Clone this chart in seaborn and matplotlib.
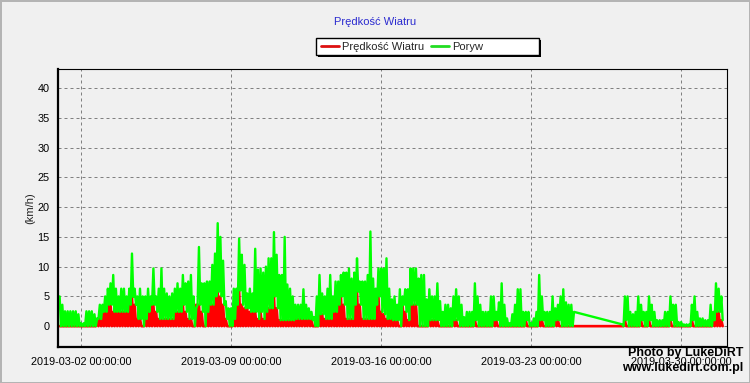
import pandas as pd
import seaborn as sns
import matplotlib.pyplot as plt
import matplotlib.dates as mdates
from matplotlib.ticker import MultipleLocator, FixedLocator
from matplotlib.lines import Line2D
from matplotlib.patches import Rectangle

# odczyty co 3 godziny (km/h)
start_a = '2019-03-01 00:00'
gust_a = [
    5.0, 3.6, 2.5, 2.5, 2.5, 2.5, 2.5, 2.0,        # 03-01
    0.5, 0.5, 2.5, 2.5, 2.5, 2.0, 1.3, 3.6,        # 03-02
    3.6, 5.0, 6.3, 7.2, 8.6, 6.3, 5.0, 6.3,        # 03-03
    6.3, 5.0, 6.3, 12.2, 6.3, 5.0, 6.3, 5.0,       # 03-04
    5.0, 6.3, 5.0, 9.7, 5.0, 6.3, 9.7, 6.3,        # 03-05
    5.5, 5.0, 5.5, 6.3, 7.2, 6.3, 8.6, 7.2,        # 03-06
    7.5, 8.6, 5.0, 3.0, 13.3, 7.2, 7.2, 7.5,       # 03-07
    7.5, 10.3, 12.2, 17.3, 15.0, 11.0, 4.2, 3.0,   # 03-08
    3.0, 6.3, 6.3, 14.7, 12.0, 10.3, 5.5, 6.3,     # 03-09
    5.5, 13.0, 9.5, 9.7, 9.0, 10.0, 11.4, 11.4,    # 03-10
    15.8, 12.0, 8.6, 8.6, 15.0, 7.0, 6.3, 5.0,     # 03-11
    3.6, 3.6, 3.6, 6.2, 3.6, 3.0, 2.4, 1.5,        # 03-12
    5.0, 8.6, 5.5, 5.0, 6.3, 8.6, 5.0, 7.5,        # 03-13
    7.5, 8.6, 9.0, 9.0, 9.7, 8.0, 9.0, 11.4,       # 03-14
    7.5, 7.5, 7.5, 8.6, 15.9, 8.0, 6.3, 9.7,       # 03-15
    9.7, 9.7, 11.4, 6.3, 4.5, 5.0, 3.6, 6.2,       # 03-16
    5.0, 6.2, 6.2, 9.7, 9.7, 9.7, 8.0, 8.6,        # 03-17
    8.6, 4.5, 6.2, 5.0, 5.0, 7.2, 4.2, 2.4,        # 03-18
    3.6, 3.6, 3.0, 5.0, 6.2, 5.0, 3.6, 1.5,        # 03-19
    2.4, 2.4, 2.4, 7.2, 5.0, 3.6, 2.4, 2.4,        # 03-20
    2.4, 5.0, 5.0, 2.4, 4.0, 7.2, 3.6, 1.3,        # 03-21
    0.5, 2.0, 3.6, 6.2, 6.2, 2.4, 2.4, 2.4,        # 03-22
    0.5, 1.3, 2.4, 8.6, 5.0, 2.4, 2.4, 2.4,        # 03-23
    5.0, 3.0, 3.6, 5.0, 6.2, 4.0, 3.6, 3.6,        # 03-24
    2.4,                                           # 03-25 00:00, potem przerwa
]
wind_a = [
    0, 0, 0, 0, 0, 0, 0, 0,
    0, 0, 0, 0, 0, 0, 1.2, 1.2,
    2.4, 2.4, 3.6, 3.6, 2.4, 2.4, 2.4, 2.4,
    2.4, 2.4, 3.6, 4.9, 3.6, 1.2, 1.2, 0,
    1.2, 2.4, 3.6, 3.6, 2.4, 1.2, 1.2, 1.2,
    1.2, 1.2, 1.2, 2.4, 2.4, 2.4, 3.6, 2.4,
    1.2, 1.2, 0, 3.6, 3.6, 2.4, 0, 2.4,
    3.6, 3.6, 5.0, 5.8, 5.0, 3.6, 1.2, 0,
    0, 1.2, 3.6, 6.0, 3.6, 3.0, 3.0, 2.4,
    2.4, 2.4, 1.2, 2.4, 1.2, 2.4, 3.0, 3.0,
    5.0, 3.0, 1.0, 1.0, 1.0, 1.0, 1.0, 1.0,
    1.2, 1.2, 1.2, 1.2, 1.2, 1.2, 1.0, 0,
    0, 2.0, 2.0, 1.2, 1.2, 1.2, 2.4, 2.4,
    3.6, 5.0, 3.6, 1.2, 1.2, 1.2, 3.6, 5.8,
    3.6, 1.2, 1.2, 1.2, 1.2, 1.2, 3.6, 5.0,
    2.4, 2.0, 1.2, 1.2, 1.0, 1.0, 1.0, 0,
    3.6, 2.4, 1.0, 3.6, 3.6, 3.6, 0, 0,
    0, 0, 1.0, 1.0, 1.0, 1.0, 0, 0,
    0, 0, 0, 1.0, 1.0, 0, 0, 0,
    0, 0, 0, 1.0, 0, 0, 0, 0,
    0, 0, 1.0, 1.0, 0, 0, 0, 0,
    0, 0, 0, 0, 0, 0, 1.0, 0,
    0, 0, 0, 1.0, 1.0, 0, 0, 0,
    0, 1.0, 1.0, 0, 0, 0, 0, 0,
    0,
]

start_b = '2019-03-27 06:00'
gust_b = [
    0.3, 5.0, 5.0, 2.4, 2.0, 2.4,                  # 03-27
    5.0, 3.6, 2.4, 2.4, 5.0, 3.6, 2.4, 1.0,        # 03-28
    1.0, 1.0, 2.4, 2.4, 5.0, 3.6, 3.6, 0.7,        # 03-29
    0.7, 0.3, 0.3, 0.3, 3.6, 5.0, 2.4, 1.3,        # 03-30
    1.3, 1.0, 1.0, 3.6, 2.4, 7.2, 6.3, 5.0,        # 03-31
]
wind_b = [
    0, 1.0, 0, 0, 0, 0,
    0, 1.0, 0, 0, 1.0, 0, 0, 0,
    0, 0, 0, 0, 1.0, 0, 0, 0,
    0, 0, 0, 0, 1.0, 0, 0, 0,
    0, 0, 0, 0, 1.0, 2.4, 2.4, 1.0,
]

y_ticks = [0, 5, 10, 15, 20, 25, 30, 35, 40]
x_ticks = ['2019-03-02', '2019-03-09', '2019-03-16', '2019-03-23', '2019-03-30']

half = pd.Timedelta(minutes=90)


def readings(start, gust, wind):
    times = pd.date_range(start, periods=len(gust), freq='3h')
    rows = []
    for t, g, w in zip(times, gust, wind):
        rows.append((t, g, w))            # szczyt
        rows.append((t + half, w, 0.0))   # cisza miedzy porywami
    return rows


rows = readings(start_a, gust_a, wind_a)[:-1] + readings(start_b, gust_b, wind_b)
df = pd.DataFrame(rows, columns=['czas', 'Poryw', 'Prędkość Wiatru'])

sns.set_style('white')
plt.rcParams['font.family'] = ['Liberation Sans', 'DejaVu Sans']
bg = '#f0f0f0'

fig = plt.figure(figsize=(7.5, 3.83), dpi=100, facecolor=bg)
fig.patch.set_edgecolor('#b4b4b4')
fig.patch.set_linewidth(2)
ax = fig.add_axes([58 / 750, 1 - 347 / 383, 669 / 750, 278 / 383])
ax.set_facecolor(bg)

sns.lineplot(data=df, x='czas', y='Prędkość Wiatru', color='#ff0000', lw=1.9,
             estimator=None, sort=False, ax=ax)
sns.lineplot(data=df, x='czas', y='Poryw', color='#00ff00', lw=1.7,
             estimator=None, sort=False, ax=ax)

ax.set_ylim(-3.5, 43.2)
ax.set_xlim(pd.Timestamp('2019-02-28 22:10'), pd.Timestamp('2019-04-01 03:20'))
ax.set_yticks(y_ticks)
ax.yaxis.set_minor_locator(MultipleLocator(1))
ax.xaxis.set_major_locator(FixedLocator(mdates.date2num(pd.to_datetime(x_ticks))))
ax.xaxis.set_minor_locator(FixedLocator(mdates.date2num(
    pd.date_range('2019-03-02', '2019-04-01', freq='42h'))))
ax.xaxis.set_major_formatter(mdates.DateFormatter('%Y-%m-%d %H:%M:%S'))
ax.set_xlabel('')
ax.set_ylabel('')

ax.grid(True, which='major', color='#808080', linestyle=(0, (3, 3)), lw=0.72)
ax.tick_params(which='major', direction='out', length=4, width=1, labelsize=7.8,
               colors='black', pad=2)
ax.tick_params(which='minor', direction='out', length=2, width=1, colors='black')
ax.tick_params(axis='x', which='major', length=5, pad=2)
ax.tick_params(axis='x', which='minor', length=3)

for side in ['top', 'right']:
    ax.spines[side].set_linewidth(0.8)
    ax.spines[side].set_color('black')
for side in ['left', 'bottom']:
    ax.spines[side].set_linewidth(1.6)
    ax.spines[side].set_color('black')

fig.text(375 / 750, 1 - 22 / 383, 'Prędkość Wiatru', color='#2b2bd0', fontsize=8,
         ha='center', va='center')
fig.text(30 / 750, 1 - 208 / 383, '(km/h)', rotation=90, fontsize=8,
         ha='center', va='center')

# ramka legendy z cieniem
x0, y0, w, h = 316 / 750, 1 - 55 / 383, 223 / 750, 17 / 383
fig.add_artist(Rectangle((x0 + 2 / 750, y0 - 2 / 383), w, h, transform=fig.transFigure,
                         facecolor='black', edgecolor='black', lw=0))
fig.add_artist(Rectangle((x0, y0), w, h, transform=fig.transFigure,
                         facecolor='white', edgecolor='black', lw=1))
handles = [Line2D([], [], color='#dd1111', lw=2), Line2D([], [], color='#22dd22', lw=2)]
fig.legend(handles, ['Prędkość Wiatru', 'Poryw'], loc='center left',
           bbox_to_anchor=(321 / 750, 1 - 46.5 / 383), ncol=2, frameon=False,
           fontsize=8, handlelength=1.6, handletextpad=0.3, columnspacing=0.6,
           borderpad=0, borderaxespad=0)

fig.text(743 / 750, 1 - 353 / 383, 'Photo by LukeDiRT', ha='right', va='center',
         fontsize=9, fontweight='bold', color='black')
fig.text(743 / 750, 1 - 368 / 383, 'www.lukedirt.com.pl', ha='right', va='center',
         fontsize=9, fontweight='bold', color='black')

fig.savefig('out.png', dpi=100, facecolor=fig.get_facecolor())
